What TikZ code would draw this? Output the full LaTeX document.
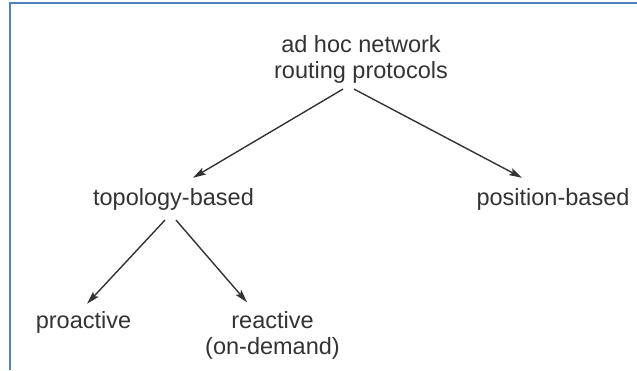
\documentclass[tikz,border=0pt]{standalone}
\usepackage{fontspec}
\setmainfont{Liberation Sans}
\usetikzlibrary{arrows.meta}
\definecolor{frameblue}{HTML}{4F81BD}
\definecolor{ink}{HTML}{333333}
\begin{document}
\begin{tikzpicture}[x=1pt,y=-1pt,
  lbl/.style={text=ink,font=\fontsize{23.5pt}{25.5pt}\selectfont,align=center,inner sep=3pt,anchor=base},
  arr/.style={draw=ink,line width=1.4pt,-{Stealth[length=13pt,width=7.5pt,inset=2.5pt]}}]
\useasboundingbox (0,0) rectangle (637,370);
\draw[frameblue,line width=2pt] (10,370) -- (10,3) -- (637,3);
\node[lbl] (root) at (361,78) {ad hoc network\\routing protocols};
\node[lbl] (topo) at (173.5,205) {topology-based};
\node[lbl] (pos) at (553,205) {position-based};
\node[lbl] (pro) at (83.5,328) {proactive};
\node[lbl] (rea) at (272.5,354) {reactive\\(on-demand)};
\draw[arr] ([xshift=-18pt,yshift=-3pt]root.south) -- ([xshift=19.5pt,yshift=7pt]topo.north);
\draw[arr] ([xshift=-7pt,yshift=-3pt]root.south) -- ([xshift=-31pt,yshift=7pt]pos.north);
\draw[arr] ([xshift=-8.5pt,yshift=-7pt]topo.south) -- ([xshift=3.5pt,yshift=4pt]pro.north);
\draw[arr] ([xshift=2.5pt,yshift=-7pt]topo.south) -- ([xshift=-25.5pt,yshift=6pt]rea.north);
\end{tikzpicture}
\end{document}
